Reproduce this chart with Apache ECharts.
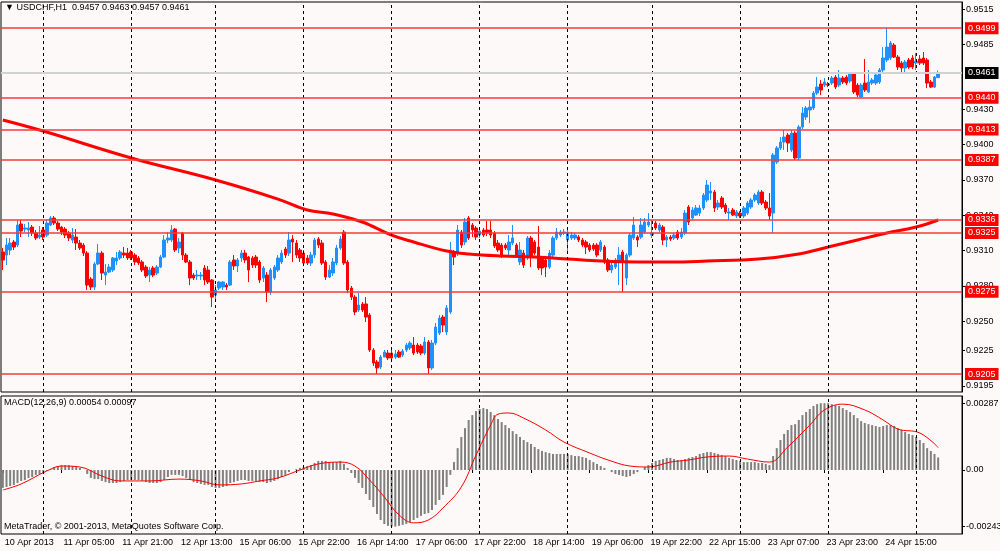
<!DOCTYPE html>
<html>
<head>
<meta charset="utf-8">
<title>USDCHF,H1</title>
<script src="https://cdn.jsdelivr.net/npm/echarts@6.0.0/dist/echarts.min.js"></script>
<style>
html, body { margin: 0; padding: 0; background: #fcf9f8; }
#chart { width: 1000px; height: 551px; }
</style>
</head>
<body>
<div id="chart"></div>
<script>
// USDCHF H1, 10 Apr 2013 13:00 .. 25 Apr 06:00, MA + MACD(12,26,9)
var symbol = 'USDCHF,H1';

var timeLabels = ['10 Apr 2013', '11 Apr 05:00', '11 Apr 21:00', '12 Apr 13:00', '15 Apr 06:00',
    '15 Apr 22:00', '16 Apr 14:00', '17 Apr 06:00', '17 Apr 22:00', '18 Apr 14:00', '19 Apr 06:00',
    '19 Apr 22:00', '22 Apr 15:00', '23 Apr 07:00', '23 Apr 23:00', '24 Apr 15:00'];
var labelStep = 16;                                  // one time label every 16 bars
var daySeparators = [11, 35, 58, 82, 106, 130, 154, 177, 201, 225, 249];   // bar index of 00:00

var open = [
    0.93088, 0.93062, 0.93105, 0.93173, 0.93147, 0.93326, 0.93283, 0.93275, 0.93300, 0.93249,
    0.93215, 0.93275, 0.93232, 0.93317, 0.93377, 0.93334, 0.93300, 0.93283, 0.93249, 0.93190,
    0.93215, 0.93164, 0.93147, 0.93079, 0.92858, 0.92790, 0.92986, 0.93079, 0.92892, 0.92918,
    0.92935, 0.93011, 0.93037, 0.93079, 0.93079, 0.93088, 0.93062, 0.93037, 0.93003, 0.92960,
    0.92892, 0.92952, 0.92909, 0.92960, 0.93045, 0.93190, 0.93190, 0.93283, 0.93122, 0.93249,
    0.93062, 0.93003, 0.92892, 0.92884, 0.92884, 0.92952, 0.92935, 0.92850, 0.92722, 0.92782,
    0.92790, 0.92807, 0.92807, 0.93020, 0.92969, 0.93037, 0.93079, 0.93045, 0.93037, 0.93045,
    0.93003, 0.92867, 0.92892, 0.92748, 0.92867, 0.92935, 0.93003, 0.93113, 0.93079, 0.93198,
    0.93164, 0.93105, 0.93079, 0.93037, 0.92994, 0.93062, 0.93198, 0.93164, 0.93003, 0.92875,
    0.92909, 0.92994, 0.93122, 0.93258, 0.93003, 0.92782, 0.92705, 0.92595, 0.92646, 0.92646,
    0.92552, 0.92255, 0.92153, 0.92110, 0.92195, 0.92229, 0.92229, 0.92195, 0.92238, 0.92212,
    0.92255, 0.92272, 0.92297, 0.92297, 0.92289, 0.92229, 0.92323, 0.92102, 0.92314, 0.92399,
    0.92535, 0.92408, 0.92578, 0.93088, 0.93088, 0.93258, 0.93173, 0.93377, 0.93317, 0.93292,
    0.93232, 0.93275, 0.93275, 0.93275, 0.93249, 0.93164, 0.93147, 0.93147, 0.93105, 0.93164,
    0.93147, 0.93003, 0.93079, 0.93037, 0.93207, 0.93173, 0.93130, 0.93037, 0.93020, 0.92960,
    0.93062, 0.93207, 0.93232, 0.93249, 0.93190, 0.93207, 0.93207, 0.93215, 0.93190, 0.93173,
    0.93147, 0.93147, 0.93147, 0.93105, 0.93130, 0.93020, 0.92935, 0.92960, 0.93003, 0.93088,
    0.92867, 0.93062, 0.93207, 0.93215, 0.93215, 0.93258, 0.93317, 0.93232, 0.93334, 0.93275,
    0.93300, 0.93190, 0.93215, 0.93207, 0.93258, 0.93215, 0.93249, 0.93470, 0.93377, 0.93402,
    0.93419, 0.93462, 0.93530, 0.93589, 0.93598, 0.93470, 0.93547, 0.93487, 0.93419, 0.93445,
    0.93394, 0.93419, 0.93394, 0.93419, 0.93470, 0.93530, 0.93504, 0.93598, 0.93513, 0.93462,
    0.93419, 0.93853, 0.93972, 0.94023, 0.94082, 0.93955, 0.94099, 0.93887, 0.94150, 0.94235,
    0.94295, 0.94312, 0.94439, 0.94516, 0.94507, 0.94516, 0.94524, 0.94575, 0.94507, 0.94567,
    0.94575, 0.94541, 0.94609, 0.94507, 0.94405, 0.94524, 0.94448, 0.94524, 0.94524, 0.94533,
    0.94635, 0.94720, 0.94737, 0.94847, 0.94745, 0.94694, 0.94652, 0.94720, 0.94737, 0.94694,
    0.94728, 0.94737, 0.94720, 0.94533, 0.94490, 0.94570];

var high = [
    0.93122, 0.93207, 0.93207, 0.93190, 0.93360, 0.93360, 0.93326, 0.93343, 0.93317, 0.93275,
    0.93309, 0.93300, 0.93360, 0.93394, 0.93394, 0.93351, 0.93309, 0.93300, 0.93266, 0.93292,
    0.93283, 0.93190, 0.93164, 0.93096, 0.92875, 0.93003, 0.93156, 0.93096, 0.92986, 0.92986,
    0.93045, 0.93088, 0.93105, 0.93130, 0.93122, 0.93105, 0.93079, 0.93054, 0.93020, 0.92977,
    0.92960, 0.92969, 0.92977, 0.93062, 0.93232, 0.93258, 0.93317, 0.93292, 0.93207, 0.93258,
    0.93079, 0.93020, 0.92909, 0.92935, 0.92918, 0.92977, 0.92969, 0.92858, 0.92807, 0.92841,
    0.92841, 0.92824, 0.93020, 0.93062, 0.93037, 0.93105, 0.93105, 0.93054, 0.93054, 0.93062,
    0.93020, 0.92969, 0.92918, 0.92952, 0.92977, 0.93062, 0.93105, 0.93130, 0.93258, 0.93232,
    0.93190, 0.93122, 0.93105, 0.93062, 0.93088, 0.93207, 0.93215, 0.93190, 0.93020, 0.92977,
    0.93037, 0.93147, 0.93224, 0.93275, 0.93020, 0.92799, 0.92722, 0.92739, 0.92663, 0.92705,
    0.92569, 0.92272, 0.92170, 0.92212, 0.92255, 0.92255, 0.92255, 0.92255, 0.92255, 0.92263,
    0.92314, 0.92331, 0.92365, 0.92314, 0.92306, 0.92365, 0.92340, 0.92340, 0.92484, 0.92552,
    0.92552, 0.92637, 0.93173, 0.93105, 0.93317, 0.93275, 0.93377, 0.93394, 0.93334, 0.93309,
    0.93292, 0.93292, 0.93351, 0.93351, 0.93266, 0.93190, 0.93164, 0.93164, 0.93232, 0.93317,
    0.93164, 0.93173, 0.93105, 0.93224, 0.93224, 0.93190, 0.93309, 0.93054, 0.93037, 0.93105,
    0.93224, 0.93292, 0.93275, 0.93283, 0.93275, 0.93258, 0.93249, 0.93232, 0.93207, 0.93190,
    0.93164, 0.93164, 0.93164, 0.93190, 0.93147, 0.93037, 0.93003, 0.93037, 0.93130, 0.93105,
    0.93079, 0.93249, 0.93385, 0.93232, 0.93377, 0.93377, 0.93419, 0.93360, 0.93351, 0.93334,
    0.93317, 0.93232, 0.93232, 0.93249, 0.93275, 0.93292, 0.93445, 0.93487, 0.93470, 0.93487,
    0.93487, 0.93589, 0.93700, 0.93683, 0.93615, 0.93530, 0.93564, 0.93504, 0.93462, 0.93462,
    0.93445, 0.93436, 0.93479, 0.93521, 0.93547, 0.93589, 0.93615, 0.93615, 0.93530, 0.93589,
    0.93929, 0.93989, 0.94065, 0.94125, 0.94099, 0.94125, 0.94116, 0.94167, 0.94320, 0.94329,
    0.94380, 0.94456, 0.94575, 0.94550, 0.94567, 0.94533, 0.94584, 0.94592, 0.94635, 0.94584,
    0.94592, 0.94618, 0.94618, 0.94524, 0.94524, 0.94728, 0.94635, 0.94567, 0.94609, 0.94652,
    0.94830, 0.94992, 0.94881, 0.94864, 0.94762, 0.94711, 0.94720, 0.94737, 0.94762, 0.94779,
    0.94762, 0.94788, 0.94737, 0.94550, 0.94584, 0.94630];

var low = [
    0.92935, 0.92977, 0.93062, 0.93105, 0.93130, 0.93215, 0.93258, 0.93215, 0.93224, 0.93190,
    0.93198, 0.93190, 0.93215, 0.93309, 0.93317, 0.93266, 0.93232, 0.93207, 0.93181, 0.93164,
    0.93105, 0.93105, 0.93054, 0.92765, 0.92765, 0.92765, 0.92977, 0.92850, 0.92807, 0.92909,
    0.92918, 0.92977, 0.93020, 0.93037, 0.93020, 0.93020, 0.92977, 0.92977, 0.92918, 0.92867,
    0.92833, 0.92875, 0.92892, 0.92952, 0.93037, 0.93164, 0.93173, 0.93088, 0.93079, 0.93020,
    0.92994, 0.92807, 0.92850, 0.92850, 0.92850, 0.92807, 0.92816, 0.92620, 0.92680, 0.92765,
    0.92765, 0.92765, 0.92799, 0.92935, 0.92918, 0.93003, 0.92994, 0.92833, 0.92952, 0.92952,
    0.92824, 0.92833, 0.92663, 0.92722, 0.92850, 0.92918, 0.92986, 0.93037, 0.93054, 0.93003,
    0.93037, 0.93003, 0.92969, 0.92977, 0.92969, 0.93037, 0.93122, 0.92977, 0.92850, 0.92867,
    0.92884, 0.92977, 0.93105, 0.92977, 0.92739, 0.92680, 0.92552, 0.92578, 0.92578, 0.92493,
    0.92238, 0.92119, 0.92051, 0.92093, 0.92195, 0.92170, 0.92153, 0.92178, 0.92187, 0.92195,
    0.92238, 0.92255, 0.92212, 0.92221, 0.92212, 0.92212, 0.92051, 0.92085, 0.92297, 0.92382,
    0.92408, 0.92382, 0.92561, 0.92977, 0.93054, 0.93122, 0.93147, 0.93190, 0.93215, 0.93190,
    0.93207, 0.93215, 0.93224, 0.93207, 0.93122, 0.93088, 0.93037, 0.93105, 0.93062, 0.93147,
    0.93045, 0.92977, 0.92952, 0.93020, 0.92960, 0.93062, 0.92935, 0.92892, 0.92875, 0.92943,
    0.93045, 0.93190, 0.93215, 0.93232, 0.93088, 0.93190, 0.93190, 0.93173, 0.93130, 0.93071,
    0.93088, 0.93096, 0.93045, 0.93088, 0.92986, 0.92918, 0.92909, 0.92943, 0.92807, 0.92748,
    0.92807, 0.93045, 0.93190, 0.93130, 0.93198, 0.93241, 0.93300, 0.93207, 0.93275, 0.93258,
    0.93147, 0.93130, 0.93181, 0.93190, 0.93190, 0.93198, 0.93232, 0.93317, 0.93360, 0.93394,
    0.93394, 0.93445, 0.93513, 0.93530, 0.93428, 0.93445, 0.93453, 0.93411, 0.93360, 0.93394,
    0.93377, 0.93377, 0.93377, 0.93402, 0.93453, 0.93513, 0.93487, 0.93487, 0.93445, 0.93360,
    0.93249, 0.93836, 0.93955, 0.93955, 0.93938, 0.93938, 0.93870, 0.93870, 0.94133, 0.94210,
    0.94184, 0.94295, 0.94422, 0.94422, 0.94490, 0.94490, 0.94507, 0.94473, 0.94490, 0.94516,
    0.94507, 0.94524, 0.94431, 0.94405, 0.94405, 0.94448, 0.94439, 0.94507, 0.94507, 0.94516,
    0.94618, 0.94703, 0.94720, 0.94737, 0.94635, 0.94618, 0.94609, 0.94643, 0.94643, 0.94635,
    0.94677, 0.94677, 0.94482, 0.94482, 0.94482, 0.94570];

var close = [
    0.93020, 0.93147, 0.93164, 0.93130, 0.93317, 0.93266, 0.93292, 0.93292, 0.93249, 0.93207,
    0.93232, 0.93215, 0.93334, 0.93377, 0.93334, 0.93283, 0.93258, 0.93232, 0.93207, 0.93232,
    0.93164, 0.93122, 0.93079, 0.92807, 0.92790, 0.92986, 0.93079, 0.92909, 0.92918, 0.92960,
    0.93037, 0.93037, 0.93088, 0.93062, 0.93037, 0.93037, 0.93003, 0.92994, 0.92935, 0.92884,
    0.92935, 0.92892, 0.92960, 0.93045, 0.93190, 0.93207, 0.93275, 0.93105, 0.93173, 0.93062,
    0.93003, 0.92867, 0.92867, 0.92892, 0.92892, 0.92850, 0.92833, 0.92705, 0.92765, 0.92833,
    0.92833, 0.92790, 0.93003, 0.92969, 0.93020, 0.93079, 0.93020, 0.92935, 0.92977, 0.92977,
    0.92850, 0.92952, 0.92748, 0.92935, 0.92960, 0.93037, 0.93079, 0.93062, 0.93190, 0.93173,
    0.93062, 0.93037, 0.92994, 0.92994, 0.93062, 0.93190, 0.93147, 0.92994, 0.92875, 0.92935,
    0.93003, 0.93122, 0.93198, 0.92994, 0.92765, 0.92705, 0.92578, 0.92637, 0.92595, 0.92535,
    0.92255, 0.92144, 0.92102, 0.92195, 0.92238, 0.92187, 0.92187, 0.92221, 0.92195, 0.92246,
    0.92297, 0.92314, 0.92229, 0.92238, 0.92229, 0.92323, 0.92102, 0.92314, 0.92450, 0.92527,
    0.92467, 0.92612, 0.93105, 0.93045, 0.93275, 0.93147, 0.93343, 0.93207, 0.93275, 0.93215,
    0.93266, 0.93232, 0.93249, 0.93232, 0.93139, 0.93105, 0.93062, 0.93122, 0.93173, 0.93207,
    0.93062, 0.93105, 0.92977, 0.93207, 0.93045, 0.93079, 0.92952, 0.92952, 0.92960, 0.93079,
    0.93207, 0.93258, 0.93258, 0.93258, 0.93258, 0.93232, 0.93232, 0.93190, 0.93147, 0.93130,
    0.93105, 0.93113, 0.93062, 0.93173, 0.93003, 0.92935, 0.92977, 0.93020, 0.93062, 0.93003,
    0.93062, 0.93232, 0.93317, 0.93190, 0.93317, 0.93343, 0.93343, 0.93249, 0.93292, 0.93317,
    0.93190, 0.93215, 0.93198, 0.93232, 0.93207, 0.93258, 0.93419, 0.93343, 0.93445, 0.93462,
    0.93462, 0.93572, 0.93657, 0.93606, 0.93462, 0.93504, 0.93470, 0.93428, 0.93428, 0.93402,
    0.93428, 0.93394, 0.93462, 0.93504, 0.93530, 0.93572, 0.93598, 0.93504, 0.93462, 0.93394,
    0.93912, 0.93972, 0.94023, 0.94065, 0.94014, 0.94099, 0.93887, 0.94150, 0.94269, 0.94312,
    0.94320, 0.94439, 0.94490, 0.94465, 0.94533, 0.94507, 0.94567, 0.94490, 0.94567, 0.94533,
    0.94524, 0.94609, 0.94448, 0.94422, 0.94507, 0.94465, 0.94533, 0.94550, 0.94592, 0.94635,
    0.94737, 0.94830, 0.94864, 0.94745, 0.94660, 0.94652, 0.94703, 0.94660, 0.94660, 0.94711,
    0.94694, 0.94694, 0.94524, 0.94490, 0.94575, 0.94610];

// moving average read at a few bars
var maBars = [0, 11, 35, 58, 75, 83, 90, 98, 106, 112, 121, 127, 136, 145, 154, 163, 173, 182, 192, 206, 217, 225, 233, 241, 249, 255];
var maValues = [0.94210, 0.94116, 0.93887, 0.93700, 0.93538, 0.93445, 0.93411, 0.93343, 0.93232, 0.93173,
    0.93096, 0.93071, 0.93054, 0.93045, 0.93028, 0.93011, 0.93003, 0.93003, 0.93011, 0.93028,
    0.93071, 0.93130, 0.93190, 0.93249, 0.93300, 0.93360];

// MACD main (histogram), one value per bar
var macdMain = [
    -0.00077, -0.00073, -0.00069, -0.00064, -0.00056, -0.00047, -0.00043, -0.00034, -0.00030, -0.00021,
    -0.00017, -0.00013, -0.00004, 0.00004, 0.00013, 0.00017, 0.00021, 0.00021, 0.00021, 0.00017,
    0.00013, 0.00009, 0, -0.00017, -0.00034, -0.00039, -0.00039, -0.00047, -0.00052, -0.00056,
    -0.00056, -0.00056, -0.00052, -0.00047, -0.00043, -0.00043, -0.00043, -0.00043, -0.00047, -0.00052,
    -0.00056, -0.00056, -0.00056, -0.00052, -0.00043, -0.00030, -0.00021, -0.00021, -0.00021, -0.00026,
    -0.00034, -0.00043, -0.00052, -0.00056, -0.00060, -0.00064, -0.00064, -0.00073, -0.00077, -0.00077,
    -0.00073, -0.00069, -0.00056, -0.00052, -0.00047, -0.00043, -0.00043, -0.00047, -0.00047, -0.00047,
    -0.00052, -0.00052, -0.00056, -0.00052, -0.00047, -0.00039, -0.00030, -0.00021, -0.00009, 0,
    0.00004, 0.00009, 0.00013, 0.00017, 0.00021, 0.00030, 0.00039, 0.00039, 0.00039, 0.00034,
    0.00034, 0.00034, 0.00039, 0.00026, 0.00009, -0.00013, -0.00034, -0.00056, -0.00077, -0.00103,
    -0.00129, -0.00159, -0.00189, -0.00215, -0.00232, -0.00240, -0.00243, -0.00243, -0.00240, -0.00236,
    -0.00232, -0.00223, -0.00215, -0.00206, -0.00197, -0.00189, -0.00185, -0.00172, -0.00150, -0.00129,
    -0.00107, -0.00073, -0.00021, 0.00034, 0.00094, 0.00142, 0.00180, 0.00215, 0.00236, 0.00253,
    0.00262, 0.00266, 0.00262, 0.00249, 0.00236, 0.00219, 0.00206, 0.00193, 0.00180, 0.00167,
    0.00155, 0.00142, 0.00129, 0.00120, 0.00112, 0.00099, 0.00090, 0.00082, 0.00077, 0.00073,
    0.00069, 0.00069, 0.00069, 0.00069, 0.00069, 0.00064, 0.00060, 0.00060, 0.00056, 0.00052,
    0.00043, 0.00034, 0.00026, 0.00017, 0.00009, 0, -0.00009, -0.00017, -0.00021, -0.00026,
    -0.00030, -0.00026, -0.00017, -0.00009, 0, 0.00013, 0.00021, 0.00030, 0.00039, 0.00043,
    0.00047, 0.00052, 0.00052, 0.00047, 0.00043, 0.00043, 0.00047, 0.00052, 0.00056, 0.00060,
    0.00069, 0.00073, 0.00077, 0.00077, 0.00073, 0.00069, 0.00064, 0.00060, 0.00052, 0.00047,
    0.00043, 0.00039, 0.00034, 0.00034, 0.00034, 0.00034, 0.00030, 0.00030, 0.00026, 0.00021,
    0.00060, 0.00094, 0.00129, 0.00155, 0.00172, 0.00193, 0.00197, 0.00215, 0.00236, 0.00249,
    0.00262, 0.00275, 0.00283, 0.00287, 0.00287, 0.00287, 0.00283, 0.00279, 0.00275, 0.00266,
    0.00258, 0.00249, 0.00236, 0.00223, 0.00210, 0.00202, 0.00197, 0.00193, 0.00189, 0.00185,
    0.00189, 0.00193, 0.00193, 0.00189, 0.00180, 0.00172, 0.00163, 0.00155, 0.00150, 0.00142,
    0.00129, 0.00116, 0.00094, 0.00082, 0.00069, 0.00054];

// MACD signal line read at a few bars
var signalBars = [0, 5, 12, 16, 21, 27, 32, 40, 48, 54, 59, 65, 70, 75, 81, 86, 92, 96, 100, 104,
    108, 112, 116, 120, 125, 129, 133, 135, 138, 142, 148, 153, 160, 165, 171, 176, 182, 187, 192, 198,
    203, 209, 214, 220, 224, 229, 235, 240, 244, 250, 255];
var signalValues = [-0.00086, -0.00060, -0.00004, 0.00017, 0.00013, -0.00026, -0.00047, -0.00047, -0.00039, -0.00047,
    -0.00064, -0.00060, -0.00047, -0.00034, 0, 0.00026, 0.00034, 0.00017, -0.00043, -0.00116,
    -0.00193, -0.00227, -0.00215, -0.00163, -0.00073, 0.00064, 0.00193, 0.00240, 0.00245, 0.00223,
    0.00172, 0.00120, 0.00073, 0.00043, 0.00017, 0.00013, 0.00034, 0.00043, 0.00056, 0.00060,
    0.00047, 0.00034, 0.00099, 0.00193, 0.00258, 0.00283, 0.00258, 0.00215, 0.00176, 0.00159,
    0.00097];

var levels = [0.9499, 0.9440, 0.9413, 0.9387, 0.9336, 0.9325, 0.9275, 0.9205];
var bid = 0.9461;
var priceTicks = [0.9515, 0.9485, 0.9430, 0.9400, 0.9370, 0.9340, 0.9310, 0.9280, 0.9250, 0.9225, 0.9195];
var macdTicks = [0.00287, 0, -0.00243];


var chart = echarts.init(document.getElementById('chart'));

var font = "'Liberation Sans', 'DejaVu Sans', sans-serif";
var n = close.length;
var slots = n + 6;                 // empty room right of the last bar

function isLabelBar(i) {
    return i % labelStep === 0 && i / labelStep < timeLabels.length;
}

var categories = [];
for (var i = 0; i < slots; i++) {
    categories.push(isLabelBar(i) ? timeLabels[i / labelStep] : 'bar' + i);
}

var candles = open.map(function (o, i) { return [o, close[i], low[i], high[i]]; });
var ma = maBars.map(function (b, k) { return [b, maValues[k]]; });
var signal = signalBars.map(function (b, k) { return [b, signalValues[k]]; });

function separators() {
    return daySeparators.map(function (b) {
        return { xAxis: b, lineStyle: { type: [3, 3], color: '#000', width: 1 }, label: { show: false } };
    });
}

function priceTag(v, bg) {
    return {
        show: true, position: 'end', distance: 3,
        formatter: function () { return v.toFixed(4); },
        color: '#fff', backgroundColor: bg, padding: [2, 3, 1, 3],
        fontFamily: font, fontSize: 9
    };
}

var levelLines = levels.map(function (v) {
    return { yAxis: v, lineStyle: { type: 'solid', color: '#f53a3a', width: 1.5 }, label: priceTag(v, '#ff0000') };
});
var bidLine = { yAxis: bid, lineStyle: { type: 'solid', color: '#d2d2d2', width: 2 }, label: priceTag(bid, '#000') };

var last = n - 1;
var titleText = '\u25BC ' + symbol + '  ' +
    [open[last], high[last], low[last], close[last]].map(function (v) { return v.toFixed(4); }).join(' ');
var macdText = 'MACD(12,26,9) ' + macdMain[last].toFixed(5) + ' ' + signalValues[signalValues.length - 1].toFixed(5);

var small = { fontFamily: font, fontSize: 9, color: '#000', fontWeight: 'normal' };

var option = {
    animation: false,
    backgroundColor: '#fcf9f8',
    textStyle: { fontFamily: font },
    title: [
        { text: titleText, left: 5, top: 3, padding: 0, textStyle: small },
        { text: macdText, left: 4, top: 398, padding: 0, textStyle: small },
        { text: 'MetaTrader, \u00A9 2001-2013, MetaQuotes Software Corp.', left: 4, top: 522, padding: 0, textStyle: small }
    ],
    grid: [
        { left: 1, right: 38, top: 2, height: 390, show: true, borderColor: '#000', borderWidth: 1, outerBoundsMode: 'none' },
        { left: 1, right: 38, top: 396, height: 138, show: true, borderColor: '#000', borderWidth: 1, outerBoundsMode: 'none' }
    ],
    xAxis: [
        {
            type: 'category', gridIndex: 0, data: categories, boundaryGap: true,
            axisLine: { show: false }, axisTick: { show: false }, axisLabel: { show: false }, splitLine: { show: false }
        },
        {
            type: 'category', gridIndex: 1, data: categories, boundaryGap: true,
            axisLine: { show: false },
            axisTick: {
                show: true, alignWithLabel: true, length: 3, lineStyle: { color: '#000' },
                interval: function (idx) { return isLabelBar(idx); }
            },
            axisLabel: {
                interval: function (idx) { return isLabelBar(idx); },
                formatter: function (v) { return v.indexOf('bar') === 0 ? '' : v; },
                align: 'left', margin: 4, padding: [0, 0, 0, 2],
                fontFamily: font, fontSize: 9, color: '#000'
            },
            splitLine: { show: false }
        }
    ],
    yAxis: [
        {
            type: 'value', gridIndex: 0, position: 'right', min: 0.91898, max: 0.95213, scale: true,
            axisLine: { show: true, lineStyle: { color: '#000' } },
            axisTick: { show: true, length: 3, customValues: priceTicks, lineStyle: { color: '#000' } },
            axisLabel: {
                customValues: priceTicks, margin: 4,
                formatter: function (v) { return v.toFixed(4); },
                fontFamily: font, fontSize: 9, color: '#000'
            },
            splitLine: { show: false }
        },
        {
            type: 'value', gridIndex: 1, position: 'right', min: -0.00275, max: 0.00318,
            axisLine: { show: true, lineStyle: { color: '#000' } },
            axisTick: { show: true, length: 3, customValues: macdTicks, lineStyle: { color: '#000' } },
            axisLabel: {
                customValues: macdTicks, margin: 4,
                formatter: function (v) { return v === 0 ? '0.00' : v.toFixed(5); },
                fontFamily: font, fontSize: 9, color: '#000'
            },
            splitLine: { show: false }
        }
    ],
    series: [
        {
            name: symbol, type: 'candlestick', xAxisIndex: 0, yAxisIndex: 0,
            data: candles, barWidth: 3,
            itemStyle: { color: '#1e90ff', color0: '#ff0000', borderColor: '#1e90ff', borderColor0: '#ff0000', borderWidth: 1 },
            markLine: {
                silent: true, symbol: ['none', 'none'], animation: false, precision: 6,
                data: separators().concat([bidLine]).concat(levelLines)
            }
        },
        {
            name: 'MA', type: 'line', xAxisIndex: 0, yAxisIndex: 0, data: ma,
            smooth: 0.4, showSymbol: false, z: 3,
            lineStyle: { color: '#ff0000', width: 3 }
        },
        {
            name: 'MACD', type: 'bar', xAxisIndex: 1, yAxisIndex: 1, data: macdMain,
            barWidth: 2, itemStyle: { color: '#808080' },
            markLine: { silent: true, symbol: ['none', 'none'], animation: false, precision: 6, data: separators() }
        },
        {
            name: 'Signal', type: 'line', xAxisIndex: 1, yAxisIndex: 1, data: signal,
            smooth: 0.4, showSymbol: false, z: 3,
            lineStyle: { color: '#ff0000', width: 1 }
        }
    ]
};

chart.setOption(option);
window.addEventListener('resize', function () {
    chart.resize();
});
</script>
</body>
</html>
